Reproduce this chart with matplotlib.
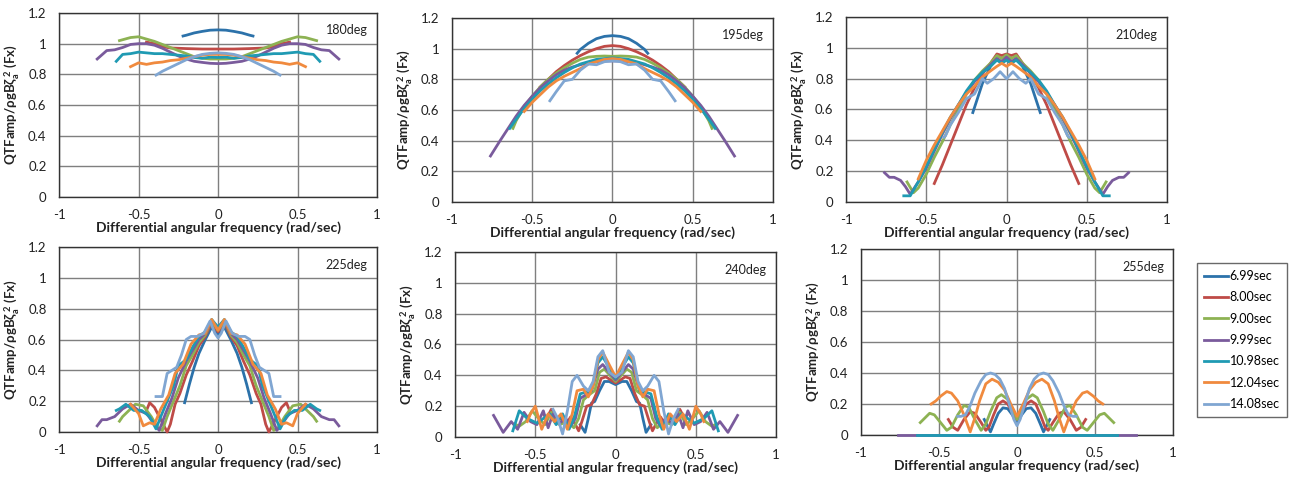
import numpy as np
import matplotlib.pyplot as plt

plt.rcParams['font.family'] = ['Lato', 'DejaVu Sans']
plt.rcParams['mathtext.fontset'] = 'custom'
plt.rcParams['mathtext.rm'] = 'Lato'
plt.rcParams['mathtext.bf'] = 'Lato:bold'
plt.rcParams['mathtext.it'] = 'Lato:italic'

periods = ['6.99sec', '8.00sec', '9.00sec', '9.99sec', '10.98sec', '12.04sec', '14.08sec']
colors = ['#2c72aa', '#bf4b47', '#8db253', '#7a5b9c', '#1f9ab3', '#f08a3e', '#80a6d2']
headings = ['180deg', '195deg', '210deg', '225deg', '240deg', '255deg']

# half curves (dw >= 0), one list per period; the QTF is symmetric in dw
x180 = [[0, 0.05, 0.1, 0.15, 0.2, 0.22],
        [0, 0.1, 0.2, 0.3, 0.35, 0.4, 0.45],
        [0, 0.05, 0.1, 0.15, 0.2, 0.25, 0.3, 0.35, 0.4, 0.45, 0.5, 0.55, 0.62],
        [0, 0.05, 0.1, 0.15, 0.2, 0.25, 0.3, 0.35, 0.4, 0.45, 0.5, 0.55, 0.6, 0.65, 0.7, 0.76],
        [0, 0.05, 0.1, 0.15, 0.2, 0.25, 0.3, 0.35, 0.4, 0.45, 0.5, 0.55, 0.6, 0.64],
        [0, 0.05, 0.1, 0.15, 0.2, 0.25, 0.3, 0.35, 0.4, 0.45, 0.5, 0.55],
        [0, 0.05, 0.1, 0.15, 0.2, 0.25, 0.3, 0.35, 0.39]]
y180 = [[1.09, 1.088, 1.08, 1.07, 1.055, 1.05],
        [0.965, 0.965, 0.968, 0.972, 0.98, 1.0, 1.01],
        [0.9, 0.9, 0.905, 0.915, 0.935, 0.955, 0.975, 0.995, 1.015, 1.03, 1.045, 1.04, 1.02],
        [0.87, 0.872, 0.878, 0.885, 0.9, 0.92, 0.945, 0.97, 0.99, 1.0, 1.0, 0.995, 0.975, 0.96, 0.955, 0.9],
        [0.91, 0.912, 0.905, 0.91, 0.92, 0.925, 0.93, 0.935, 0.935, 0.94, 0.945, 0.935, 0.93, 0.885],
        [0.93, 0.93, 0.925, 0.915, 0.905, 0.895, 0.89, 0.88, 0.875, 0.865, 0.875, 0.85],
        [0.94, 0.937, 0.93, 0.915, 0.895, 0.87, 0.845, 0.82, 0.795]]

x195 = [[0, 0.05, 0.1, 0.15, 0.2, 0.22],
        [0, 0.05, 0.1, 0.15, 0.2, 0.25, 0.3, 0.35, 0.4, 0.45],
        [0, 0.05, 0.1, 0.15, 0.2, 0.25, 0.3, 0.35, 0.4, 0.45, 0.5, 0.55, 0.6, 0.62],
        [0, 0.05, 0.1, 0.15, 0.2, 0.25, 0.3, 0.35, 0.4, 0.45, 0.5, 0.55, 0.6, 0.65, 0.7, 0.76],
        [0, 0.05, 0.1, 0.15, 0.2, 0.25, 0.3, 0.35, 0.4, 0.45, 0.5, 0.55, 0.6, 0.64],
        [0, 0.05, 0.1, 0.15, 0.2, 0.25, 0.3, 0.35, 0.4, 0.45, 0.5, 0.55],
        [0, 0.05, 0.1, 0.15, 0.2, 0.25, 0.3, 0.35, 0.39]]
y195 = [[1.085, 1.08, 1.065, 1.035, 0.995, 0.97],
        [1.02, 1.015, 1.0, 0.98, 0.955, 0.925, 0.89, 0.85, 0.8, 0.75],
        [0.95, 0.952, 0.95, 0.945, 0.93, 0.905, 0.875, 0.84, 0.8, 0.75, 0.69, 0.62, 0.53, 0.48],
        [0.92, 0.92, 0.915, 0.91, 0.895, 0.88, 0.86, 0.83, 0.79, 0.745, 0.69, 0.63, 0.56, 0.48, 0.4, 0.3],
        [0.94, 0.935, 0.93, 0.915, 0.9, 0.875, 0.845, 0.81, 0.77, 0.725, 0.67, 0.61, 0.54, 0.48],
        [0.935, 0.93, 0.915, 0.9, 0.87, 0.845, 0.82, 0.79, 0.75, 0.7, 0.65, 0.59],
        [0.92, 0.915, 0.895, 0.9, 0.86, 0.8, 0.79, 0.72, 0.66]]

x210 = [[0, 0.03, 0.06, 0.1, 0.15, 0.21],
        [0, 0.03, 0.06, 0.1, 0.15, 0.2, 0.25, 0.3, 0.35, 0.4, 0.45],
        [0, 0.03, 0.06, 0.1, 0.15, 0.2, 0.25, 0.3, 0.35, 0.4, 0.45, 0.5, 0.55, 0.58, 0.62],
        [0, 0.03, 0.06, 0.1, 0.15, 0.2, 0.25, 0.3, 0.35, 0.4, 0.45, 0.5, 0.55, 0.6, 0.63, 0.66, 0.7, 0.73, 0.76],
        [0, 0.03, 0.06, 0.1, 0.15, 0.2, 0.25, 0.3, 0.35, 0.4, 0.45, 0.5, 0.55, 0.6, 0.64],
        [0, 0.03, 0.06, 0.1, 0.15, 0.2, 0.25, 0.3, 0.35, 0.4, 0.45, 0.5, 0.55],
        [0, 0.04, 0.08, 0.12, 0.15, 0.2, 0.25, 0.3, 0.35, 0.38, 0.39]]
y210 = [[0.93, 0.9, 0.93, 0.88, 0.77, 0.58],
        [0.96, 0.95, 0.96, 0.9, 0.83, 0.74, 0.63, 0.5, 0.37, 0.24, 0.12],
        [0.955, 0.93, 0.95, 0.9, 0.85, 0.79, 0.7, 0.6, 0.5, 0.39, 0.29, 0.18, 0.09, 0.06, 0.13],
        [0.94, 0.91, 0.93, 0.89, 0.84, 0.78, 0.71, 0.63, 0.54, 0.44, 0.33, 0.22, 0.13, 0.05, 0.1, 0.14, 0.16, 0.16, 0.19],
        [0.92, 0.9, 0.92, 0.88, 0.84, 0.79, 0.72, 0.63, 0.55, 0.45, 0.34, 0.23, 0.13, 0.04, 0.04],
        [0.88, 0.9, 0.88, 0.85, 0.81, 0.75, 0.7, 0.63, 0.55, 0.46, 0.37, 0.27, 0.15],
        [0.8, 0.845, 0.8, 0.77, 0.8, 0.7, 0.67, 0.58, 0.5, 0.43, 0.42]]

x225 = [[0, 0.04, 0.08, 0.12, 0.15, 0.18, 0.21],
        [0, 0.04, 0.08, 0.12, 0.16, 0.2, 0.24, 0.27, 0.3, 0.32, 0.36, 0.4, 0.43, 0.45],
        [0, 0.04, 0.08, 0.12, 0.16, 0.2, 0.24, 0.28, 0.32, 0.35, 0.38, 0.42, 0.47, 0.52, 0.56, 0.6, 0.62],
        [0, 0.04, 0.08, 0.12, 0.16, 0.2, 0.25, 0.29, 0.33, 0.37, 0.4, 0.45, 0.5, 0.55, 0.6, 0.65, 0.7, 0.73, 0.76],
        [0, 0.04, 0.08, 0.12, 0.16, 0.2, 0.25, 0.28, 0.32, 0.36, 0.39, 0.43, 0.48, 0.53, 0.58, 0.62, 0.64],
        [0, 0.04, 0.08, 0.12, 0.17, 0.22, 0.27, 0.31, 0.36, 0.4, 0.43, 0.47, 0.5, 0.55],
        [0, 0.02, 0.05, 0.09, 0.13, 0.17, 0.2, 0.23, 0.26, 0.29, 0.32, 0.35, 0.39]]
y225 = [[0.63, 0.68, 0.6, 0.51, 0.42, 0.31, 0.19],
        [0.65, 0.71, 0.62, 0.56, 0.46, 0.37, 0.25, 0.18, 0.05, 0.0, 0.08, 0.16, 0.19, 0.14],
        [0.66, 0.72, 0.63, 0.58, 0.5, 0.43, 0.3, 0.2, 0.1, 0.01, 0.03, 0.1, 0.17, 0.18, 0.14, 0.1, 0.07],
        [0.68, 0.72, 0.64, 0.6, 0.53, 0.46, 0.35, 0.22, 0.12, 0.01, 0.05, 0.12, 0.14, 0.18, 0.15, 0.1, 0.08, 0.08, 0.04],
        [0.68, 0.73, 0.65, 0.62, 0.55, 0.47, 0.43, 0.3, 0.2, 0.1, 0.02, 0.1, 0.14, 0.14, 0.18, 0.15, 0.14],
        [0.66, 0.73, 0.64, 0.63, 0.57, 0.44, 0.38, 0.24, 0.15, 0.05, 0.06, 0.04, 0.12, 0.18],
        [0.61, 0.64, 0.72, 0.64, 0.62, 0.62, 0.6, 0.5, 0.42, 0.4, 0.38, 0.23, 0.23]]

x240 = [[0, 0.04, 0.07, 0.1, 0.13, 0.15, 0.17, 0.19, 0.22],
        [0, 0.06, 0.09, 0.12, 0.15, 0.18, 0.21, 0.23, 0.26, 0.28, 0.31, 0.34, 0.37, 0.4, 0.43, 0.45],
        [0, 0.07, 0.1, 0.13, 0.17, 0.2, 0.23, 0.26, 0.3, 0.35, 0.4, 0.44, 0.48, 0.52, 0.56, 0.6, 0.62],
        [0, 0.08, 0.11, 0.15, 0.19, 0.22, 0.25, 0.28, 0.31, 0.35, 0.39, 0.42, 0.45, 0.49, 0.53, 0.57, 0.61, 0.65, 0.7, 0.76],
        [0, 0.08, 0.11, 0.15, 0.19, 0.22, 0.26, 0.29, 0.33, 0.37, 0.41, 0.45, 0.49, 0.55, 0.6, 0.64],
        [0, 0.08, 0.11, 0.14, 0.17, 0.2, 0.24, 0.27, 0.3, 0.34, 0.38, 0.42, 0.46, 0.5, 0.53, 0.55],
        [0, 0.04, 0.08, 0.11, 0.14, 0.17, 0.2, 0.24, 0.27, 0.3, 0.33, 0.36, 0.39]]
y240 = [[0.34, 0.36, 0.36, 0.3, 0.23, 0.22, 0.12, 0.03, 0.08],
        [0.35, 0.39, 0.38, 0.28, 0.21, 0.2, 0.1, 0.04, 0.1, 0.13, 0.08, 0.12, 0.1, 0.18, 0.12, 0.15],
        [0.36, 0.44, 0.42, 0.3, 0.27, 0.24, 0.12, 0.06, 0.1, 0.08, 0.16, 0.08, 0.12, 0.17, 0.1, 0.07, 0.08],
        [0.37, 0.47, 0.44, 0.3, 0.27, 0.25, 0.12, 0.07, 0.12, 0.09, 0.15, 0.06, 0.17, 0.08, 0.1, 0.16, 0.05, 0.1, 0.03, 0.14],
        [0.38, 0.52, 0.48, 0.3, 0.29, 0.28, 0.12, 0.05, 0.15, 0.08, 0.15, 0.12, 0.09, 0.12, 0.17, 0.04],
        [0.39, 0.55, 0.5, 0.33, 0.26, 0.31, 0.3, 0.15, 0.05, 0.15, 0.1, 0.15, 0.05, 0.2, 0.15, 0.1],
        [0.39, 0.42, 0.56, 0.52, 0.36, 0.3, 0.33, 0.4, 0.36, 0.17, 0.02, 0.12, 0.18]]

x255 = [[0, 0.03, 0.06, 0.09, 0.12, 0.15, 0.17, 0.19, 0.21],
        [0, 0.03, 0.06, 0.09, 0.12, 0.15, 0.18, 0.2, 0.23, 0.27, 0.3, 0.34, 0.38, 0.41, 0.44],
        [0, 0.03, 0.06, 0.1, 0.13, 0.17, 0.2, 0.23, 0.27, 0.31, 0.34, 0.38, 0.42, 0.45, 0.49, 0.53, 0.56, 0.59, 0.62],
        [0, 0.76],
        [0, 0.64],
        [0, 0.04, 0.08, 0.12, 0.16, 0.2, 0.24, 0.27, 0.3, 0.34, 0.38, 0.42, 0.45, 0.49, 0.52, 0.55],
        [0, 0.02, 0.05, 0.08, 0.11, 0.14, 0.17, 0.2, 0.23, 0.27, 0.3, 0.33, 0.36, 0.38]]
y255 = [[0.08, 0.13, 0.17, 0.175, 0.14, 0.07, 0.02, 0.06, 0.1],
        [0.1, 0.15, 0.2, 0.22, 0.2, 0.13, 0.05, 0.03, 0.08, 0.14, 0.15, 0.1, 0.03, 0.05, 0.1],
        [0.1, 0.17, 0.23, 0.26, 0.24, 0.15, 0.07, 0.03, 0.1, 0.18, 0.19, 0.13, 0.05, 0.03, 0.08, 0.13, 0.14, 0.11, 0.08],
        [0.0, 0.0],
        [0.0, 0.0],
        [0.12, 0.2, 0.29, 0.34, 0.36, 0.33, 0.22, 0.11, 0.02, 0.13, 0.22, 0.27, 0.28, 0.25, 0.22, 0.2],
        [0.06, 0.1, 0.2, 0.3, 0.36, 0.39, 0.4, 0.39, 0.35, 0.27, 0.19, 0.13, 0.12, 0.12]]

xs = [x180, x195, x210, x225, x240, x255]
ys = [y180, y195, y210, y225, y240, y255]

# axes rectangles [left, bottom, width, height] in figure fractions
boxes = [[0.0457, 0.5896, 0.2461, 0.3833],
         [0.3498, 0.5792, 0.2485, 0.3833],
         [0.6548, 0.5792, 0.2485, 0.3854],
         [0.0457, 0.1000, 0.2461, 0.3854],
         [0.3522, 0.0896, 0.2485, 0.3854],
         [0.6664, 0.0938, 0.2415, 0.3875]]

ylab = r'QTFamp/ρgBζ$_{\mathbf{a}}^{\ \mathbf{2}}$ (Fx)'

fig = plt.figure(figsize=(12.92, 4.8), dpi=100)

for k in range(6):
    ax = fig.add_axes(boxes[k])
    for xh, yh, c, lab in zip(xs[k], ys[k], colors, periods):
        xh = np.array(xh)
        yh = np.array(yh)
        x = np.concatenate([-xh[::-1], xh[1:]])
        y = np.concatenate([yh[::-1], yh[1:]])
        ax.plot(x, y, color=c, lw=2.0, label=lab, clip_on=False, zorder=3,
                solid_joinstyle='round')
    ax.set_xlim(-1, 1)
    ax.set_ylim(0, 1.2)
    ax.set_xticks([-1, -0.5, 0, 0.5, 1])
    ax.set_xticklabels(['-1', '-0.5', '0', '0.5', '1'])
    ax.set_yticks([0, 0.2, 0.4, 0.6, 0.8, 1.0, 1.2])
    ax.set_yticklabels(['0', '0.2', '0.4', '0.6', '0.8', '1', '1.2'])
    ax.tick_params(length=0, labelsize=9.5, colors='#222222')
    ax.tick_params(axis='x', pad=9)
    ax.tick_params(axis='y', pad=9)
    ax.grid(True, color='#7f7f7f', lw=1.0, zorder=1)
    for s in ax.spines.values():
        s.set_color('#333333')
        s.set_linewidth(1.0)
    ax.set_xlabel('Differential angular frequency (rad/sec)', fontsize=10,
                  fontweight='bold', labelpad=0, color='#222222')
    ax.set_ylabel(ylab, fontsize=9.5, fontweight='bold', labelpad=4, color='#222222')
    ax.text(0.905, 0.905, headings[k], transform=ax.transAxes, fontsize=9,
            ha='center', va='center', color='#222222')
    if k == 5:
        handles, labels = ax.get_legend_handles_labels()

leg = fig.legend(handles, labels, loc='upper left', bbox_to_anchor=(0.9265, 0.452),
                 borderaxespad=0, frameon=True, fancybox=False, fontsize=9,
                 handlelength=1.9, handletextpad=0.15, labelspacing=0.75,
                 borderpad=0.55)
leg.get_frame().set_edgecolor('#444444')
leg.get_frame().set_linewidth(1.0)

fig.savefig('out.png', dpi=100)
